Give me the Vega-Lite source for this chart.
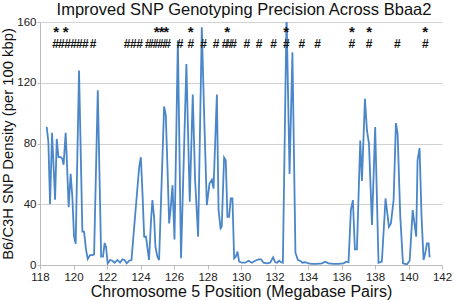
{
  "$schema": "https://vega.github.io/schema/vega-lite/v6.json",
  "width": 402,
  "height": 243,
  "autosize": {"type": "none"},
  "padding": {"left": 40, "top": 22, "right": 12, "bottom": 35},
  "background": "white",
  "title": {"text": "Improved SNP Genotyping Precision Across Bbaa2", "font": "Liberation Sans", "fontSize": 16.5, "fontWeight": "normal", "color": "#111", "anchor": "middle", "frame": "group", "dx": 3, "offset": -2},
  "config": {"view": {"stroke": null}, "font": "Liberation Sans", "axis": {"labelOverlap": false}, "axisY": {"labelOverlap": false}},
  "datasets": {
    "line": [
      {"pos":118.40,"density":91},{"pos":118.50,"density":81},{"pos":118.60,"density":40},{"pos":118.72,"density":87},{"pos":118.90,"density":43},{"pos":119.00,"density":83},{"pos":119.10,"density":71},{"pos":119.24,"density":71},{"pos":119.33,"density":70},{"pos":119.41,"density":66},{"pos":119.53,"density":87},{"pos":119.59,"density":73},{"pos":119.71,"density":38},{"pos":119.83,"density":60},{"pos":119.93,"density":45},{"pos":120.03,"density":19},{"pos":120.13,"density":14},{"pos":120.33,"density":128},{"pos":120.53,"density":22},{"pos":120.63,"density":22},{"pos":120.75,"density":10},{"pos":120.85,"density":4},{"pos":120.99,"density":6.5},{"pos":121.13,"density":6.5},{"pos":121.23,"density":7},{"pos":121.45,"density":115},{"pos":121.65,"density":5.5},{"pos":121.76,"density":5.5},{"pos":121.86,"density":14.5},{"pos":121.94,"density":12},{"pos":122.04,"density":1},{"pos":122.18,"density":3.3},{"pos":122.32,"density":2.8},{"pos":122.46,"density":1.5},{"pos":122.62,"density":3.3},{"pos":122.78,"density":1.5},{"pos":122.92,"density":3.7},{"pos":123.04,"density":3.3},{"pos":123.18,"density":1.1},{"pos":123.32,"density":2.8},{"pos":123.46,"density":3.3},{"pos":123.92,"density":64.5},{"pos":124.02,"density":71},{"pos":124.12,"density":47},{"pos":124.22,"density":18.6},{"pos":124.33,"density":18.6},{"pos":124.43,"density":9.8},{"pos":124.51,"density":3.3},{"pos":124.63,"density":29.5},{"pos":124.71,"density":42.7},{"pos":124.81,"density":31.7},{"pos":124.89,"density":12},{"pos":125.01,"density":5.5},{"pos":125.11,"density":3.3},{"pos":125.41,"density":104.4},{"pos":125.51,"density":98.5},{"pos":125.61,"density":64.5},{"pos":125.71,"density":27.4},{"pos":125.81,"density":38.3},{"pos":125.91,"density":52.5},{"pos":126.03,"density":16.8},{"pos":126.23,"density":148},{"pos":126.42,"density":4.4},{"pos":126.74,"density":132.4},{"pos":126.94,"density":41.6},{"pos":127.12,"density":112.2},{"pos":127.26,"density":55.8},{"pos":127.44,"density":18.6},{"pos":127.66,"density":156.5},{"pos":127.82,"density":90.8},{"pos":127.96,"density":39.4},{"pos":128.12,"density":53.6},{"pos":128.26,"density":56.2},{"pos":128.36,"density":50.3},{"pos":128.56,"density":112.2},{"pos":128.66,"density":36.1},{"pos":128.78,"density":24.1},{"pos":128.85,"density":25.2},{"pos":128.99,"density":70.7},{"pos":129.09,"density":68.9},{"pos":129.19,"density":31.7},{"pos":129.29,"density":31.7},{"pos":129.39,"density":43.8},{"pos":129.49,"density":43.8},{"pos":129.59,"density":4.4},{"pos":129.69,"density":5.5},{"pos":129.79,"density":8.8},{"pos":129.89,"density":2.2},{"pos":130.05,"density":1.5},{"pos":130.25,"density":1.5},{"pos":130.45,"density":2.8},{"pos":130.65,"density":1.5},{"pos":130.85,"density":2.8},{"pos":131.05,"density":3.7},{"pos":131.20,"density":3.7},{"pos":131.34,"density":1.5},{"pos":131.54,"density":1.1},{"pos":131.74,"density":1.5},{"pos":131.92,"density":5},{"pos":132.04,"density":1.8},{"pos":132.16,"density":1.5},{"pos":132.28,"density":2.8},{"pos":132.40,"density":1.8},{"pos":132.50,"density":1.5},{"pos":132.72,"density":165},{"pos":132.90,"density":60},{"pos":133.07,"density":140},{"pos":133.25,"density":8},{"pos":133.40,"density":3.3},{"pos":133.53,"density":2.8},{"pos":133.67,"density":1.5},{"pos":133.83,"density":1.8},{"pos":134.03,"density":1.1},{"pos":134.23,"density":0.7},{"pos":134.53,"density":0.7},{"pos":134.83,"density":1.1},{"pos":135.03,"density":2.2},{"pos":135.23,"density":1.1},{"pos":135.52,"density":0.7},{"pos":135.82,"density":0.7},{"pos":136.12,"density":1.1},{"pos":136.28,"density":2.2},{"pos":136.42,"density":1.8},{"pos":136.56,"density":36.1},{"pos":136.68,"density":42.7},{"pos":136.80,"density":10.3},{"pos":136.92,"density":10.3},{"pos":137.12,"density":82},{"pos":137.22,"density":55.4},{"pos":137.40,"density":109.4},{"pos":137.52,"density":88.6},{"pos":137.64,"density":79.9},{"pos":137.82,"density":26.3},{"pos":138.01,"density":90.8},{"pos":138.21,"density":1.5},{"pos":138.41,"density":2.2},{"pos":138.63,"density":43.8},{"pos":138.83,"density":25.2},{"pos":138.95,"density":27.4},{"pos":139.11,"density":42.7},{"pos":139.25,"density":93.4},{"pos":139.35,"density":86.4},{"pos":139.51,"density":31.7},{"pos":139.67,"density":1.1},{"pos":139.91,"density":0.4},{"pos":140.07,"density":2.8},{"pos":140.25,"density":36.1},{"pos":140.46,"density":18.6},{"pos":140.54,"density":68.9},{"pos":140.66,"density":77},{"pos":140.78,"density":31.7},{"pos":140.90,"density":3.3},{"pos":141.00,"density":7.7},{"pos":141.10,"density":14.2},{"pos":141.20,"density":14.2},{"pos":141.26,"density":5}
    ],
    "stars": [
      {"pos":118.96},{"pos":119.53},{"pos":124.96},{"pos":125.26},{"pos":125.54},{"pos":127.0},{"pos":129.17},{"pos":132.7},{"pos":136.62},{"pos":137.65},{"pos":141.0}
    ],
    "hashes": [
      {"pos":118.93},{"pos":119.28},{"pos":119.64},{"pos":120.0},{"pos":120.35},{"pos":120.71},{"pos":121.17},
      {"pos":123.2},{"pos":123.57},{"pos":123.94},
      {"pos":124.47},{"pos":124.75},{"pos":125.04},{"pos":125.34},{"pos":125.62},
      {"pos":126.36},{"pos":127.0},{"pos":127.76},{"pos":128.51},
      {"pos":129.05},{"pos":129.29},{"pos":129.56},
      {"pos":130.35},{"pos":131.08},{"pos":131.94},{"pos":132.7},{"pos":133.63},{"pos":134.58},
      {"pos":136.62},{"pos":137.65},{"pos":139.34},{"pos":141.0}
    ]
  },
  "encoding": {
    "x": {"field": "pos", "type": "quantitative",
      "scale": {"domain": [118, 142], "nice": false, "zero": false},
      "axis": {"title": "Chromosome 5 Position (Megabase Pairs)", "values": [118,120,122,124,126,128,130,132,134,136,138,140,142],
        "grid": false, "domainColor": "#bdbdbd", "tickColor": "#bdbdbd", "tickSize": 4, "labelFlush": false, "labelOverlap": false,
        "labelFont": "Liberation Sans", "labelFontSize": 11.5, "labelColor": "#222", "labelPadding": 2,
        "titleFont": "Liberation Sans", "titleFontSize": 16, "titleFontWeight": "normal", "titleColor": "#111", "titlePadding": 1}}
  },
  "layer": [
    {
      "data": {"name": "line"},
      "mark": {"type": "line", "color": "#4a86c8", "strokeWidth": 1.8, "clip": true},
      "encoding": {
        "y": {"field": "density", "type": "quantitative",
          "scale": {"domain": [0, 160], "nice": false},
          "axis": {"title": "B6/C3H SNP Density (per 100 kbp)", "values": [0,20,40,60,80,100,120,140,160],
            "grid": true, "gridColor": "#d2d2d2", "gridWidth": 1, "domainColor": "#bdbdbd", "tickColor": "#bdbdbd", "tickSize": 3,
            "labelOverlap": false, "labelFlush": false,
            "labelFont": "Liberation Sans", "labelFontSize": 11.5, "labelColor": "#222", "labelPadding": 1,
            "titleFont": "Liberation Sans", "titleFontSize": 14.8, "titleFontWeight": "normal", "titleColor": "#111", "titlePadding": 1}}
      }
    },
    {
      "data": {"name": "stars"},
      "mark": {"type": "text", "text": "*", "font": "Liberation Sans", "fontSize": 15, "fontWeight": "bold", "color": "#111", "baseline": "alphabetic", "align": "center"},
      "encoding": {"y": {"datum": 150}}
    },
    {
      "data": {"name": "hashes"},
      "mark": {"type": "text", "text": "#", "font": "Liberation Sans", "fontSize": 12, "fontWeight": "bold", "color": "#111", "baseline": "alphabetic", "align": "center"},
      "encoding": {"y": {"datum": 143}}
    }
  ]
}
